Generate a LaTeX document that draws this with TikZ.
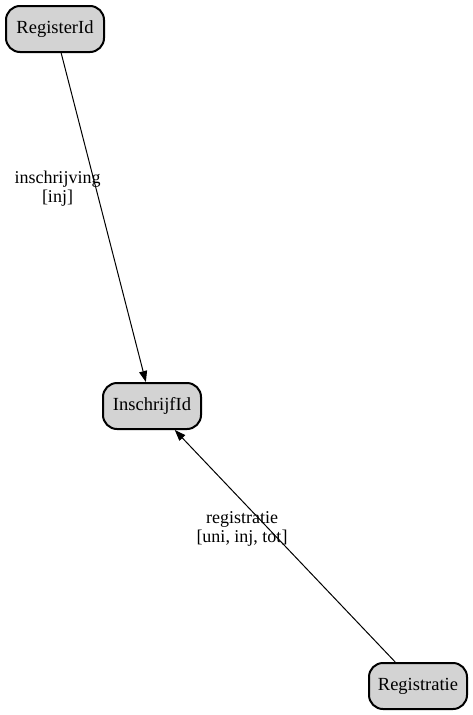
\documentclass[tikz,border=0pt]{standalone}
\usepackage{fontspec}
\setmainfont{Liberation Serif}
\usetikzlibrary{arrows.meta}
\tikzset{
  ent/.style={draw=black, line width=2pt, fill={rgb,255:red,211;green,211;blue,211}, rounded corners=14pt,
    minimum width=98pt, minimum height=46pt, inner sep=0pt, font=\fontsize{18.5}{20}\selectfont},
  rel/.style={draw=black, line width=1pt, -{Triangle[length=11pt,width=8pt]}},
  lbl/.style={align=center, font=\fontsize{18}{19}\selectfont, inner sep=0pt}
}
\begin{document}
\begin{tikzpicture}[x=1pt,y=-1pt]
\useasboundingbox (0,0) rectangle (473,715);
\node[ent] (reg) at (55,29) {RegisterId};
\node[ent] (ins) at (152,406) {InschrijfId};
\node[ent] (rgt) at (418,686) {Registratie};
\draw[rel] (reg) -- (ins);
\draw[rel] (rgt) -- (ins);
\node[lbl] (l1) at (57.5,189) {inschrijving\\{[inj]}};
\node[lbl] (l2) at (242,529) {registratie\\{[uni, inj, tot]}};
\end{tikzpicture}
\end{document}
